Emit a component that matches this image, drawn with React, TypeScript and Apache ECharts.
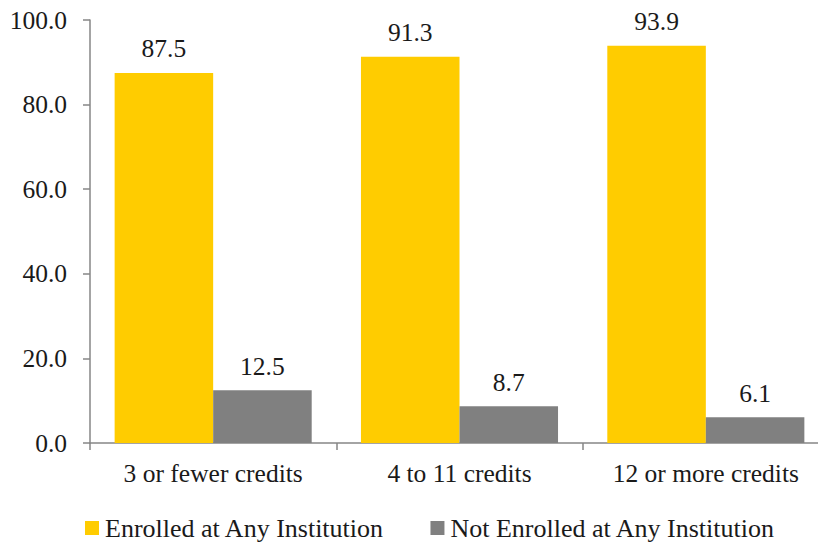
import React, { useEffect, useRef } from "react";
import * as echarts from "echarts";

const categories = ["3 or fewer credits", "4 to 11 credits", "12 or more credits"];
const enrolled = [87.5, 91.3, 93.9];
const notEnrolled = [12.5, 8.7, 6.1];
const seriesNames = ["Enrolled at Any Institution", "Not Enrolled at Any Institution"];

const FONT = "Liberation Serif";
const FONT_SIZE = 25.5;
const TEXT = "#1a1a1a";
const AXIS = "#868686";

export default function App() {
  const ref = useRef<HTMLDivElement>(null);

  useEffect(() => {
    if (!ref.current) return;
    const chart = echarts.init(ref.current, null, { renderer: "svg" });
    const label = {
      show: true,
      position: "top" as const,
      distance: 11,
      color: TEXT,
      fontFamily: FONT,
      fontSize: FONT_SIZE,
      formatter: (p: any) => Number(p.value).toFixed(1),
    };
    chart.setOption({
      animation: false,
      textStyle: { fontFamily: FONT },
      grid: { left: 90, right: 0, top: 20, bottom: 101, containLabel: false },
      legend: {
        left: 85,
        top: 515,
        padding: 0,
        itemWidth: 14,
        itemHeight: 14,
        itemGap: 46,
        icon: "rect",
        textStyle: { fontFamily: FONT, fontSize: 26, color: TEXT, padding: [0, 0, 0, 1] },
        data: seriesNames,
      },
      xAxis: {
        type: "category",
        data: categories,
        axisLine: { lineStyle: { color: AXIS, width: 1.5 } },
        axisTick: { show: true, length: 7, lineStyle: { color: AXIS, width: 1.5 } },
        axisLabel: { color: TEXT, fontFamily: FONT, fontSize: FONT_SIZE, margin: 17 },
      },
      yAxis: {
        type: "value",
        min: 0,
        max: 100,
        interval: 20,
        axisLine: { show: true, lineStyle: { color: AXIS, width: 1.5 } },
        axisTick: { show: true, length: 7, lineStyle: { color: AXIS, width: 1.5 } },
        splitLine: { show: false },
        axisLabel: {
          color: TEXT,
          fontFamily: FONT,
          fontSize: FONT_SIZE,
          margin: 23,
          formatter: (v: number) => v.toFixed(1),
        },
      },
      series: [
        {
          name: seriesNames[0],
          type: "bar",
          data: enrolled,
          barWidth: "40%",
          barGap: "0%",
          itemStyle: { color: "#FFCC00" },
          label,
        },
        {
          name: seriesNames[1],
          type: "bar",
          data: notEnrolled,
          barWidth: "40%",
          itemStyle: { color: "#808080" },
          label,
        },
      ],
    });
    return () => chart.dispose();
  }, []);

  return (
    <div
      style={{
        position: "fixed",
        left: 0,
        top: 0,
        width: 818,
        height: 544,
        overflow: "hidden",
        background: "#fff",
      }}
    >
      <div ref={ref} style={{ width: 829, height: 544 }} />
    </div>
  );
}
